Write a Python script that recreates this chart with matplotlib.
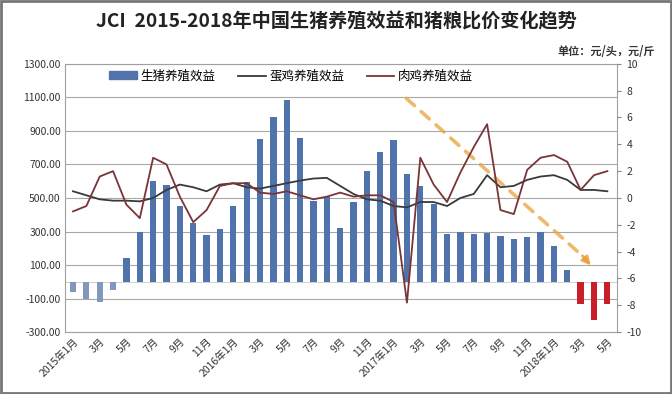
import numpy as np
import matplotlib
matplotlib.use('Agg')
import matplotlib.pyplot as plt
from matplotlib.patches import Rectangle
from matplotlib.lines import Line2D

plt.rcParams['font.family'] = ['Noto Sans CJK SC', 'DejaVu Sans']
plt.rcParams['axes.unicode_minus'] = False

# 月份 2015年1月 - 2018年5月
months = ['2015年1月', '2月', '3月', '4月', '5月', '6月', '7月', '8月', '9月', '10月', '11月', '12月',
          '2016年1月', '2月', '3月', '4月', '5月', '6月', '7月', '8月', '9月', '10月', '11月', '12月',
          '2017年1月', '2月', '3月', '4月', '5月', '6月', '7月', '8月', '9月', '10月', '11月', '12月',
          '2018年1月', '2月', '3月', '4月', '5月']

# 生猪养殖效益 (元/头)
pig = [-60, -100, -120, -50, 140, 300, 600, 580, 450, 350, 280, 316,
       450, 596, 850, 980, 1084, 856, 480, 505, 320, 474, 660, 776,
       846, 646, 574, 466, 286, 296, 286, 294, 276, 256, 270, 296,
       214, 70, -130, -226, -130]

# 蛋鸡养殖效益 (元/斤)
egg = [0.5, 0.2, -0.1, -0.2, -0.2, -0.25, 0.0, 0.6, 1.0, 0.8, 0.5, 1.0,
       1.1, 0.8, 0.7, 0.9, 1.1, 1.3, 1.45, 1.5, 0.9, 0.3, -0.1, -0.2,
       -0.6, -0.7, -0.3, -0.3, -0.6, 0.0, 0.3, 1.7, 0.8, 0.9, 1.35, 1.6,
       1.7, 1.35, 0.6, 0.6, 0.5]

# 肉鸡养殖效益
broiler = [-1.0, -0.6, 1.6, 2.0, -0.5, -1.5, 3.0, 2.5, 0.1, -1.8, -0.9, 0.9,
           1.1, 1.1, 0.4, 0.3, 0.5, 0.2, -0.1, 0.1, 0.4, 0.1, 0.2, 0.2,
           -0.3, -7.8, 3.0, 1.0, -0.3, 1.9, 3.8, 5.5, -0.9, -1.2, 2.1, 3.0,
           3.2, 2.7, 0.6, 1.7, 2.0]

x = np.arange(len(months))
bar_colors = ['#c81f2b' if (v < 0 and i > 30) else ('#8197bb' if v < 0 else '#5073ab')
              for i, v in enumerate(pig)]

fig = plt.figure(figsize=(6.72, 3.94), dpi=100)
ax = fig.add_axes([0.0967, 0.157, 0.821, 0.681])

ax.bar(x, pig, width=0.47, color=bar_colors, edgecolor='none', zorder=2)
ax.set_ylim(-300, 1300)
ax.set_yticks(np.arange(-300, 1301, 200))
ax.set_yticklabels([f'{v:.2f}' for v in np.arange(-300, 1301, 200)], fontsize=7.5, color='#333333')
ax.set_xlim(-0.6, len(months) - 0.3)
ax.set_xticks(x[::2])
ax.set_xticklabels(months[::2], rotation=45, ha='right', rotation_mode='anchor', fontsize=7.5, color='#333333')
ax.tick_params(axis='both', length=0, pad=3)
ax.grid(axis='y', color='#a8a8a8', lw=0.8, zorder=0)
ax.axhline(0, color='#c8c8c8', lw=0.6, zorder=1)
for s in ax.spines.values():
    s.set_color('#a0a0a0')
    s.set_linewidth(0.8)

ax2 = ax.twinx()
ax2.plot(x, egg, color='#3a3a3a', lw=1.3, zorder=3)
ax2.plot(x, broiler, color='#7a3438', lw=1.3, zorder=3)
ax2.set_ylim(-10, 10)
ax2.set_yticks(np.arange(-10, 11, 2))
ax2.tick_params(axis='y', length=3, color='#888888', labelsize=7.5, labelcolor='#333333', pad=4)
for s in ax2.spines.values():
    s.set_visible(False)

# 趋势箭头
ax.annotate('', xy=(38.2, 150), xytext=(24.8, 1105),
            arrowprops=dict(arrowstyle='-', color='#e9a23b', lw=2.6, alpha=0.75, linestyle=(0, (3, 2.5))),
            zorder=5)
ax.annotate('', xy=(38.9, 85), xytext=(38.0, 168),
            arrowprops=dict(arrowstyle='-|>', color='#e9a23b', lw=2.0, alpha=0.85, mutation_scale=12),
            zorder=5)

handles = [Rectangle((0, 0), 1, 1, color='#5073ab'),
           Line2D([], [], color='#3a3a3a', lw=1.3),
           Line2D([], [], color='#7a3438', lw=1.3)]
ax.legend(handles, ['生猪养殖效益', '蛋鸡养殖效益', '肉鸡养殖效益'], ncol=3, frameon=False,
          loc='upper left', bbox_to_anchor=(0.06, 1.02), fontsize=9, handlelength=2.2,
          handleheight=0.6, columnspacing=1.8, handletextpad=0.3)

fig.text(0.5, 0.945, 'JCI  2015-2018年中国生猪养殖效益和猪粮比价变化趋势', ha='center', va='center',
         fontsize=13.8, fontweight='bold', color='#222222')
fig.text(0.975, 0.87, '单位：元/头，元/斤', ha='right', va='center', fontsize=8, fontweight='bold', color='#333333')

fig.patches.append(Rectangle((0.002, 0.003), 0.996, 0.994, transform=fig.transFigure,
                             fill=False, edgecolor='#777777', lw=2))

fig.savefig('out.png', dpi=100)
